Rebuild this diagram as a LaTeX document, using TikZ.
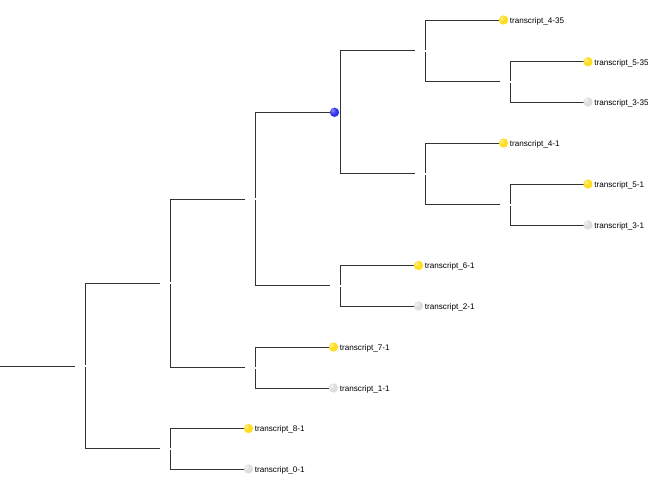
\documentclass[tikz,border=0pt]{standalone}
\usepackage{fontspec}
\setmainfont{Liberation Sans}
\usetikzlibrary{calc,backgrounds}
\definecolor{edgec}{HTML}{333333}
\definecolor{goldc}{HTML}{FFDD22}
\definecolor{goldrim}{HTML}{F2C200}
\definecolor{greyc}{HTML}{DDDDDD}
\definecolor{greyrim}{HTML}{C8C8C8}
\definecolor{bluec}{HTML}{3333EE}
\definecolor{bluerim}{HTML}{1C1CB0}
\pgfdeclareradialshading{yball}{\pgfpoint{-12bp}{12bp}}{color(0bp)=(white!55!goldc); color(16bp)=(goldc); color(48bp)=(goldc); color(62bp)=(goldrim); color(80bp)=(goldrim)}
\pgfdeclareradialshading{gball}{\pgfpoint{-12bp}{12bp}}{color(0bp)=(white!70!greyc); color(16bp)=(greyc); color(48bp)=(greyc); color(62bp)=(greyrim); color(80bp)=(greyrim)}
\pgfdeclareradialshading{bball}{\pgfpoint{-12bp}{12bp}}{color(0bp)=(white!45!bluec); color(18bp)=(bluec); color(48bp)=(bluec); color(62bp)=(bluerim); color(80bp)=(bluerim)}
\begin{document}
\begin{tikzpicture}[x=0.75pt,y=-0.75pt,
  edge/.style={draw=edgec,line width=0.75pt},
  dot/.style={circle,inner sep=0pt,minimum size=7pt},
  leafy/.style={dot,shading=yball},
  leafg/.style={dot,shading=gball},
  leafb/.style={dot,shading=bball},
  lab/.style={anchor=base west,inner sep=0pt,font=\fontsize{6.1pt}{7pt}\selectfont},
  gapmark/.style={fill=white}
]
\useasboundingbox (0,0) rectangle (648,490);
% leaves
\node[leafy] (l4_35) at (503.5,20) {};
\node[leafy] (l5_35) at (588,61.8) {};
\node[leafg] (l3_35) at (588,102) {};
\node[leafy] (l4_1) at (503.5,143) {};
\node[leafy] (l5_1) at (588,184) {};
\node[leafg] (l3_1) at (588,225) {};
\node[leafy] (l6_1) at (418.5,265.5) {};
\node[leafg] (l2_1) at (418.5,306) {};
\node[leafy] (l7_1) at (333.5,347) {};
\node[leafg] (l1_1) at (333.5,388) {};
\node[leafy] (l8_1) at (248.5,428.5) {};
\node[leafg] (l0_1) at (248.5,469) {};
% internal nodes
\coordinate (na) at (510,81.9);
\coordinate (nb) at (425,50.9);
\coordinate (nc) at (510,204.5);
\coordinate (nd) at (425,173.75);
\coordinate (ne) at (340,112.3);
\coordinate (nf) at (340,285.75);
\coordinate (ng) at (255,199);
\coordinate (nh) at (255,367.5);
\coordinate (ni) at (170,283.25);
\coordinate (nj) at (170,448.75);
\coordinate (nk) at (85,366);
\coordinate (r0) at (0,366);
\node[leafb] (eb) at (334.5,112.3) {};
% labels
\node[lab] (t4_35) at ($(l4_35.east)+(1.2,3.3)$) {transcript\_4-35};
\node[lab] (t5_35) at ($(l5_35.east)+(1.2,3.3)$) {transcript\_5-35};
\node[lab] (t3_35) at ($(l3_35.east)+(1.2,3.3)$) {transcript\_3-35};
\node[lab] (t4_1) at ($(l4_1.east)+(1.2,3.3)$) {transcript\_4-1};
\node[lab] (t5_1) at ($(l5_1.east)+(1.2,3.3)$) {transcript\_5-1};
\node[lab] (t3_1) at ($(l3_1.east)+(1.2,3.3)$) {transcript\_3-1};
\node[lab] (t6_1) at ($(l6_1.east)+(1.2,3.3)$) {transcript\_6-1};
\node[lab] (t2_1) at ($(l2_1.east)+(1.2,3.3)$) {transcript\_2-1};
\node[lab] (t7_1) at ($(l7_1.east)+(1.2,3.3)$) {transcript\_7-1};
\node[lab] (t1_1) at ($(l1_1.east)+(1.2,3.3)$) {transcript\_1-1};
\node[lab] (t8_1) at ($(l8_1.east)+(1.2,3.3)$) {transcript\_8-1};
\node[lab] (t0_1) at ($(l0_1.east)+(1.2,3.3)$) {transcript\_0-1};
\begin{scope}[on background layer]
  % leaf edges
  \draw[edge] (na) |- (l5_35.center);
  \draw[edge] (na) |- (l3_35.center);
  \draw[edge] (nb) |- (l4_35.center);
  \draw[edge] (nc) |- (l5_1.center);
  \draw[edge] (nc) |- (l3_1.center);
  \draw[edge] (nd) |- (l4_1.center);
  \draw[edge] (nf) |- (l6_1.center);
  \draw[edge] (nf) |- (l2_1.center);
  \draw[edge] (nh) |- (l7_1.center);
  \draw[edge] (nh) |- (l1_1.center);
  \draw[edge] (nj) |- (l8_1.center);
  \draw[edge] (nj) |- (l0_1.center);
  % internal edges
  \draw[edge] (nb) |- ($(na)+(-10.5,0)$);
  \draw[edge] (nd) |- ($(nc)+(-10.5,0)$);
  \draw[edge] (ne) |- ($(nb)+(-10.5,0)$);
  \draw[edge] (ne) |- ($(nd)+(-10.5,0)$);
  \draw[edge] (ng) |- (eb.center);
  \draw[edge] (ng) |- ($(nf)+(-10.5,0)$);
  \draw[edge] (ni) |- ($(ng)+(-10.5,0)$);
  \draw[edge] (ni) |- ($(nh)+(-10.5,0)$);
  \draw[edge] (nk) |- ($(ni)+(-10.5,0)$);
  \draw[edge] (nk) |- ($(nj)+(-10.5,0)$);
  \draw[edge] (r0) -- ($(nk)+(-10.5,0)$);
\end{scope}
% small white breaks at internal nodes
\foreach \n in {na,nb,nc,nd,nf,ng,nh,ni,nj,nk}
  \fill[gapmark] ($(\n)+(-0.9,-1)$) rectangle ($(\n)+(0.9,1)$);
\end{tikzpicture}
\end{document}
